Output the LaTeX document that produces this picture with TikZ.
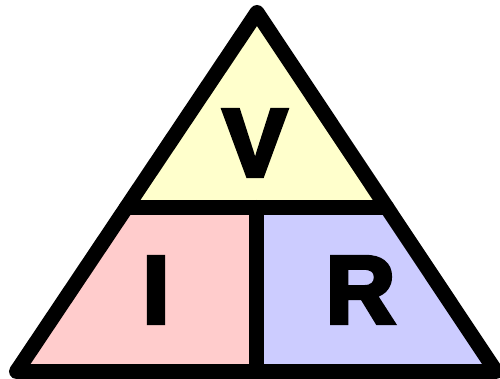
\documentclass[tikz,border=0pt]{standalone}
\usepackage{fontspec}
\newfontfamily\heavy{Liberation Sans Bold}[FakeBold=4.5]
\usetikzlibrary{calc}
\definecolor{vyellow}{HTML}{FFFFCC}
\definecolor{ipink}{HTML}{FFCCCC}
\definecolor{rblue}{HTML}{CCCCFF}
\tikzset{
  edge/.style={line width=15pt, line join=round, line cap=round, black},
  letter/.style={inner sep=0pt, font=\heavy\fontsize{96}{96}\selectfont, text=black}
}
\begin{document}
\begin{tikzpicture}[x=1pt,y=-1pt]
\useasboundingbox (0,0) rectangle (500,379);
\fill[white] (0,0) rectangle (500,379);
\coordinate (A) at (257,12.5);
\coordinate (L) at (16.5,371.5);
\coordinate (R) at (496,371.5);
\coordinate (ML) at ($(L)!0.4568!(A)$);
\coordinate (MR) at ($(R)!0.4568!(A)$);
\coordinate (MT) at (256.5,207.5);
\coordinate (MB) at (256.5,371.5);
\fill[vyellow] (A) -- (ML) -- (MR) -- cycle;
\fill[ipink] (ML) -- (MT) -- (MB) -- (L) -- cycle;
\fill[rblue] (MT) -- (MR) -- (R) -- (MB) -- cycle;
\draw[edge] (A) -- (L) -- (R) -- cycle;
\draw[edge] (ML) -- (MR);
\draw[edge] (MT) -- (MB);
\node[letter] (v) at (255,143) {V};
\node[letter] (i) at (156,290) {I};
\node[letter] (r) at (360.5,290) {R};
\end{tikzpicture}
\end{document}
